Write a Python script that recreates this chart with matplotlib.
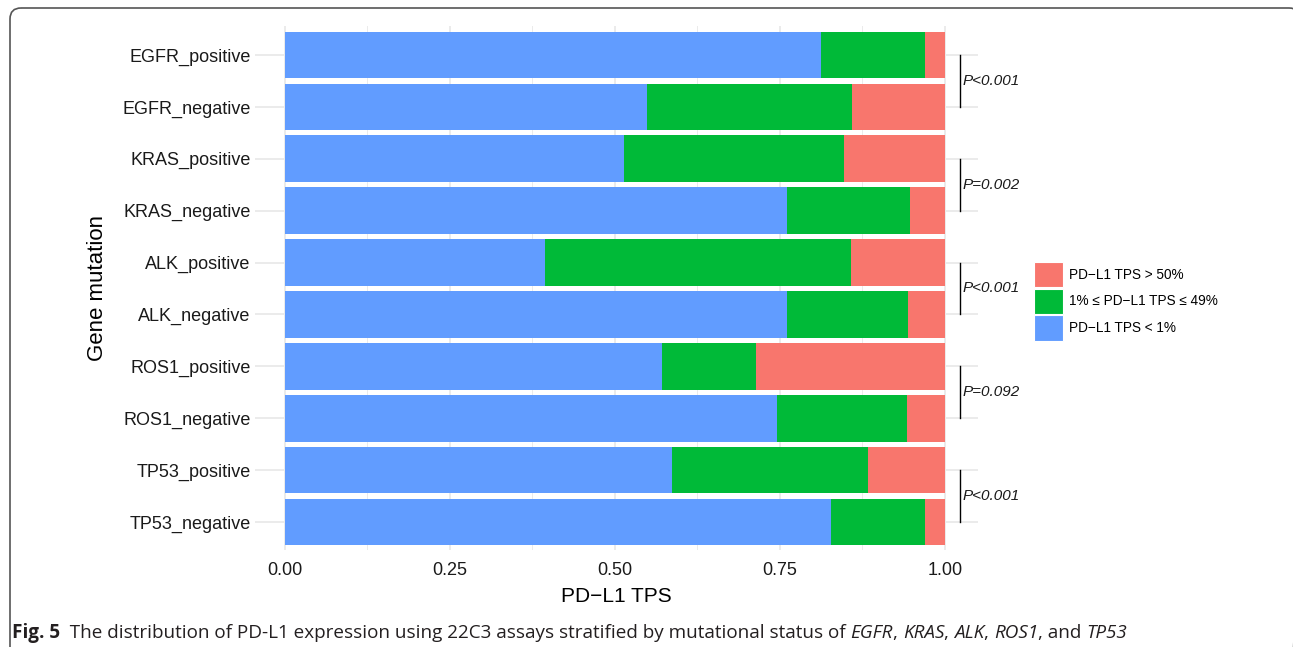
import matplotlib
matplotlib.use("Agg")
import matplotlib.pyplot as plt
from matplotlib.patches import Patch, FancyBboxPatch

# proportions of PD-L1 TPS groups per mutation status
groups = ["EGFR_positive", "EGFR_negative", "KRAS_positive", "KRAS_negative",
          "ALK_positive", "ALK_negative", "ROS1_positive", "ROS1_negative",
          "TP53_positive", "TP53_negative"]
tps_low = [0.812, 0.548, 0.514, 0.761, 0.394, 0.761, 0.571, 0.745, 0.586, 0.827]
tps_mid = [0.158, 0.311, 0.333, 0.186, 0.464, 0.183, 0.143, 0.197, 0.297, 0.143]
tps_high = [0.030, 0.141, 0.153, 0.053, 0.142, 0.056, 0.286, 0.058, 0.117, 0.030]

p_labels = ["P<0.001", "P=0.002", "P<0.001", "P=0.092", "P<0.001"]
legend_labels = ["PD\u2212L1 TPS > 50%", "1% \u2264 PD\u2212L1 TPS \u2264 49%", "PD\u2212L1 TPS < 1%"]
xticks = [0.0, 0.25, 0.5, 0.75, 1.0]

c_low, c_mid, c_high = "#619CFF", "#00BA38", "#F8766D"

plt.rcParams["font.family"] = ["Liberation Sans", "DejaVu Sans"]

fig = plt.figure(figsize=(12.93, 6.47), dpi=100)

# page frame drawn in pixel units on a background axes
bg = fig.add_axes([0, 0, 1, 1])
bg.set_xlim(0, 1293)
bg.set_ylim(647, 0)
bg.axis("off")
bg.add_patch(FancyBboxPatch((10, 8), 1290, 680, boxstyle="round,pad=0,rounding_size=11",
                            facecolor="none", edgecolor="#555555", linewidth=1.2))

ax = fig.add_axes([0.1974, 0.1492, 0.5589, 0.8099])

n = len(groups)
ypos = [n - 1 - i for i in range(n)]

ax.set_xticks([0.125, 0.375, 0.625, 0.875], minor=True)
ax.grid(which="major", color="#EBEBEB", linewidth=1.4)
ax.grid(which="minor", axis="x", color="#EBEBEB", linewidth=0.7)
ax.set_axisbelow(True)

left = [0.0] * n
for vals, col in [(tps_low, c_low), (tps_mid, c_mid), (tps_high, c_high)]:
    ax.barh(ypos, vals, left=left, height=0.9, color=col, linewidth=0)
    left = [a + b for a, b in zip(left, vals)]

ax.set_xlim(-0.045, 1.05)
ax.set_ylim(-0.55, n - 1 + 0.55)
ax.set_yticks(ypos)
ax.set_yticklabels(groups)
ax.set_xticks(xticks)
ax.set_xticklabels(["%.2f" % t for t in xticks])
ax.tick_params(which="both", length=0, labelsize=13, labelcolor="#1a1a1a")
ax.tick_params(axis="y", pad=3.5)
ax.tick_params(axis="x", pad=8)
for s in ax.spines.values():
    s.set_visible(False)

ax.set_xlabel("PD\u2212L1 TPS", fontsize=15, labelpad=6)
ax.set_ylabel("Gene mutation", fontsize=16, labelpad=10)

# significance brackets between positive/negative pairs
for k, lab in enumerate(p_labels):
    y_top = ypos[2 * k]
    y_bot = ypos[2 * k + 1]
    ax.plot([1.023, 1.023], [y_bot, y_top], color="black", linewidth=1, clip_on=False)
    ax.text(1.027, (y_top + y_bot) / 2, lab, fontsize=11, style="italic",
            color="#1a1a1a", va="center", ha="left", clip_on=False)

handles = [Patch(facecolor=c, edgecolor="white", linewidth=0.8) for c in (c_high, c_mid, c_low)]
fig.legend(handles, legend_labels, loc="upper left",
           bbox_to_anchor=(1034 / 1293, (647 - 262) / 647), frameon=False,
           fontsize=9.8, handlelength=2.1, handleheight=2.5, labelspacing=0.08,
           handletextpad=0.5, borderpad=0, borderaxespad=0)

# caption, built from pieces with different styles
pieces = [("Fig. 5", "bold"), ("  The distribution of PD-L1 expression using 22C3 assays stratified by mutational status of ", "normal"),
          ("EGFR", "italic"), (", ", "normal"), ("KRAS", "italic"), (", ", "normal"),
          ("ALK", "italic"), (", ", "normal"), ("ROS1", "italic"), (", and ", "normal"),
          ("TP53", "italic")]
renderer = fig.canvas.get_renderer()
x0 = 12 / 1293
for txt, sty in pieces:
    t = fig.text(x0, (647 - 638) / 647, txt, fontsize=13.6, family=["Open Sans", "DejaVu Sans"],
                 fontweight="bold" if sty == "bold" else "normal",
                 style="italic" if sty == "italic" else "normal",
                 color="#231f20", va="baseline", ha="left")
    bb = t.get_window_extent(renderer)
    x0 += bb.width / 1293

fig.savefig("out.png", dpi=100)
